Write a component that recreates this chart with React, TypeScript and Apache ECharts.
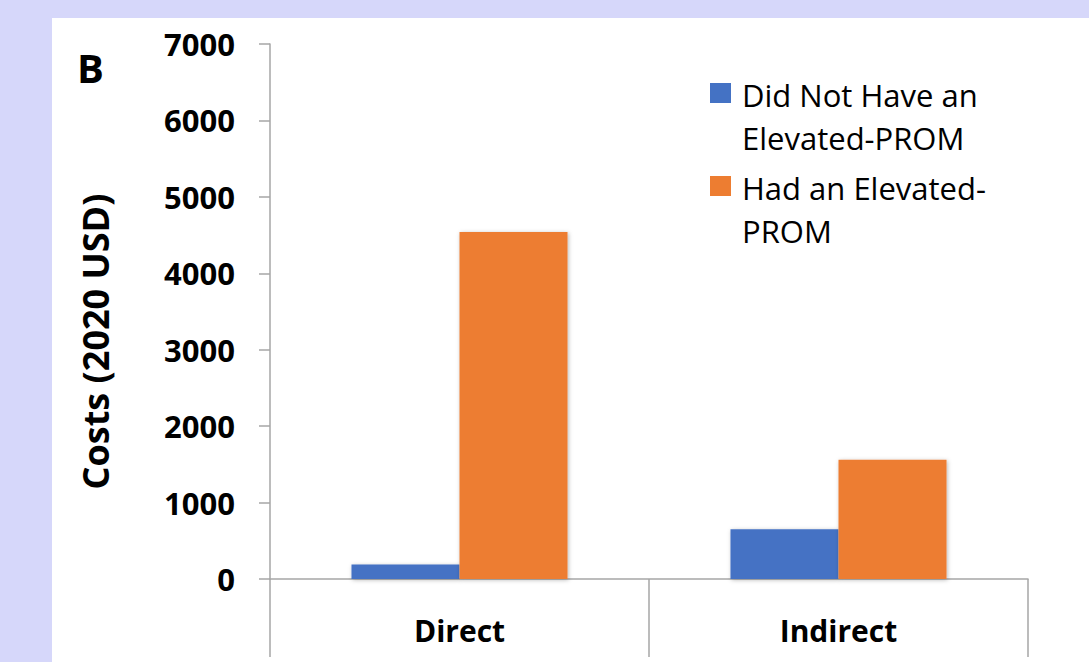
import React, { useEffect, useRef } from "react";
import * as echarts from "echarts";

// Cost categories and the two patient groups
const categories = ["Direct", "Indirect"];
const seriesNames = ["Did Not Have an\nElevated-PROM", "Had an Elevated-\nPROM"];
const notElevatedCosts = [190, 650];
const elevatedCosts = [4540, 1560];
const seriesColors = ["#4472C4", "#ED7D31"];

const yMax = 7000;
const yStep = 1000;

const FONT = "'Open Sans', 'Noto Sans', sans-serif";
const AXIS_GRAY = "#a6a6a6";

export default function App() {
  const ref = useRef<HTMLDivElement>(null);

  useEffect(() => {
    if (!ref.current) return;
    const chart = echarts.init(ref.current, undefined, { renderer: "svg" });

    const barStyle = (color: string) => ({
      color,
      shadowColor: "rgba(0,0,0,0.28)",
      shadowBlur: 4,
      shadowOffsetX: 1,
      shadowOffsetY: 1,
    });

    chart.setOption({
      animation: false,
      backgroundColor: "#d6d7fa",
      graphic: [
        {
          type: "rect",
          left: 52,
          top: 18,
          z: -10,
          shape: { width: 1037, height: 644 },
          style: { fill: "#ffffff" },
          silent: true,
        },
      ],
      title: {
        text: "B",
        left: 77,
        top: 47,
        padding: 0,
        textStyle: { fontFamily: FONT, fontSize: 40, fontWeight: "bold", color: "#000" },
      },
      legend: {
        orient: "vertical",
        left: 710,
        top: 73,
        padding: 0,
        itemWidth: 21,
        itemHeight: 84,
        itemGap: 7,
        icon: "path://M0,0h0.01v0.01z M0,9h21v20h-21z M20.99,83.99h0.01v0.01z",
        selectedMode: false,
        data: seriesNames,
        textStyle: {
          fontFamily: FONT,
          fontSize: 31,
          lineHeight: 43,
          color: "#000",
          padding: [0, 0, 0, 6],
        },
      },
      grid: { left: 270, top: 44, right: 61, bottom: 83, containLabel: false },
      xAxis: {
        type: "category",
        data: categories,
        axisLine: { show: true, lineStyle: { color: AXIS_GRAY, width: 1.5 } },
        axisTick: { show: true, length: 78, alignWithLabel: false, lineStyle: { color: AXIS_GRAY, width: 1.5 } },
        axisLabel: {
          margin: 36,
          fontFamily: FONT,
          fontSize: 30,
          fontWeight: "bold",
          color: "#000",
        },
        splitLine: { show: false },
      },
      yAxis: {
        type: "value",
        min: 0,
        max: yMax,
        interval: yStep,
        name: "Costs (2020 USD)",
        nameLocation: "middle",
        nameGap: 157,
        nameTextStyle: {
          fontFamily: FONT,
          fontSize: 36,
          fontWeight: "bold",
          color: "#000",
          padding: [0, 60, 0, 0],
        },
        axisLine: { show: true, lineStyle: { color: AXIS_GRAY, width: 1.5 } },
        axisTick: { show: true, length: 11, lineStyle: { color: AXIS_GRAY, width: 1.5 } },
        axisLabel: {
          margin: 35,
          fontFamily: FONT,
          fontSize: 31,
          fontWeight: "bold",
          color: "#000",
          formatter: (v: number) => String(v),
        },
        splitLine: { show: false },
      },
      series: [
        {
          name: seriesNames[0],
          type: "bar",
          data: notElevatedCosts,
          barGap: "0%",
          barCategoryGap: "43%",
          itemStyle: barStyle(seriesColors[0]),
        },
        {
          name: seriesNames[1],
          type: "bar",
          data: elevatedCosts,
          barGap: "0%",
          barCategoryGap: "43%",
          itemStyle: barStyle(seriesColors[1]),
        },
      ],
    });

    return () => chart.dispose();
  }, []);

  return (
    <div
      ref={ref}
      style={{ position: "fixed", left: 0, top: 0, width: 1089, height: 662 }}
    />
  );
}
